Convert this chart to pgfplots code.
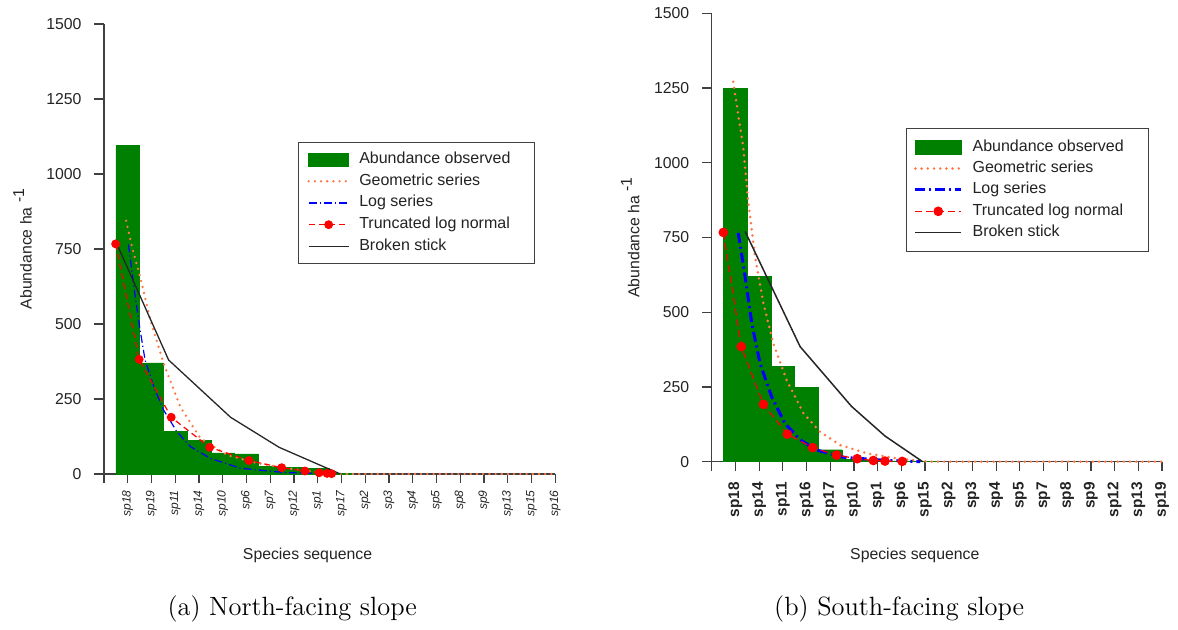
\documentclass[border=0pt]{standalone}
\usepackage{pgfplots}
\pgfplotsset{compat=1.18}
\usepackage{fontspec}
\newfontfamily\arialfont{Liberation Sans}
\usetikzlibrary{calc}
\definecolor{bargreen}{RGB}{0,128,0}
\definecolor{geoorange}{RGB}{255,120,70}
\definecolor{axgray}{RGB}{64,64,64}
\definecolor{txtgray}{RGB}{35,35,35}

\pgfplotsset{
 lineleg/.style={legend image code/.code={\draw[##1] (0pt,0pt) -- (#1,0pt);}},
 markleg/.style={legend image code/.code={\draw[##1, mark repeat=2, mark phase=2] plot coordinates {(0pt,0pt) (#1/2,0pt) (#1,0pt)};}},
 barleg/.style={legend image code/.code={\fill[bargreen] (0pt,-3.4pt) rectangle (#1,3.4pt);}},
 rsty/.style={
  scale only axis,
  axis lines=left,
  axis line style={-, draw=axgray, line width=0.6pt},
  every tick/.style={draw=axgray, line width=0.6pt},
  tick align=outside,
  major tick length=4.75pt,
  xmin=0, xmax=19, ymin=0, ymax=1500,
  xtick={0,...,19},
  ytick={0,250,500,750,1000,1250,1500},
  yticklabels={0,250,500,750,1000,1250,1500},
  yticklabel style={font=\fontsize{7.9}{9}\arialfont, text=txtgray, inner sep=0pt},
  yticklabel shift=6.3pt,
  ylabel={Abundance ha \raisebox{0.9ex}{-1}},
  xlabel={Species sequence},
  label style={font=\fontsize{7.9}{9}\arialfont, text=txtgray, inner sep=0pt},
  ylabel style={at={($(axis description cs:0,0.5)+(-36.2pt,0pt)$)}, anchor=base},
  clip=false,
  legend cell align=left,
 }
}

\begin{document}
\begin{tikzpicture}
\path[use as bounding box] (0pt,0pt) rectangle (589pt,315pt);

% ---------------- (a) North-facing slope ----------------
\begin{axis}[rsty,
  at={(52pt,78pt)}, anchor=south west,
  width=225.65pt, height=225pt,
  xticklabels={,sp18,sp19,sp11,sp14,sp10,sp6,sp7,sp12,sp1,sp17,sp2,sp3,sp4,sp5,sp8,sp9,sp13,sp15,sp16},
  xticklabel style={rotate=90, anchor=east, inner sep=0pt, font=\fontsize{6}{7}\arialfont\itshape, text=txtgray},
  xticklabel shift=3.3pt,
  xlabel style={at={($(axis description cs:0.451,0)+(0pt,-42.65pt)$)}, anchor=base},
  legend style={at={(axis description cs:0.43,0.738)}, anchor=north west,
    draw=axgray, line width=0.6pt, fill=white,
    inner xsep=4.35pt, inner ysep=5.05pt, row sep=3.85pt, column sep=4.65pt,
    font=\fontsize{8}{9.6}\arialfont, text=txtgray,
    nodes={inner sep=0pt, text height=5.5pt, text depth=1.5pt}},
]
\addplot[ybar, bar width=1, bar shift=0pt, fill=bargreen, draw=bargreen, line width=0.2pt, barleg=20pt]
  coordinates {(1,1095) (2,370) (3,141) (4,111) (5,70) (6,67) (7,25) (8,22) (9,19) (10,3)};
\addlegendentry{\makebox[83.15pt][l]{Abundance observed}}

\addplot[draw=geoorange, line width=1.3pt, line cap=round, dash pattern=on 0pt off 3.1pt, lineleg=20pt]
  coordinates {(0.93,844) (1.2,750) (1.52,658) (1.95,513) (2.51,369) (3.21,224) (4.06,119) (5.19,63) (6.46,36) (7.72,19) (8.8,8) (9.7,2) (10,0) (19,0)};
\addlegendentry{\makebox[83.15pt][l]{Geometric series}}

\addplot[draw=blue, line width=0.6pt, dash pattern=on 4pt off 1.5pt on 0.6pt off 1.5pt, lineleg=20pt]
  coordinates {(1.03,765) (1.3,600) (1.52,480) (1.73,380) (2.1,290) (2.51,213) (3.07,141) (3.64,91) (4.48,52) (5.75,19) (7.58,5) (9.6,0)};
\addlegendentry{\makebox[83.15pt][l]{Log series}}

\addplot[draw=red, line width=0.6pt, dash pattern=on 3pt off 2pt,
  mark=*, mark size=1.9pt, mark options={solid, fill=red, draw=red}, markleg=20pt]
  coordinates {(0.49,767) (1.48,382) (2.83,189) (4.45,89) (6.1,45) (7.48,21) (8.46,10) (9.06,4) (9.39,2) (9.58,1)};
\addlegendentry{\makebox[83.15pt][l]{Truncated log normal}}

\addplot[draw=black!85, line width=0.65pt, lineleg=20pt]
  coordinates {(0.54,767) (2.72,380) (5.33,189) (7.37,89) (9.95,0)};
\addlegendentry{\makebox[83.15pt][l]{Broken stick}}
\end{axis}

% ---------------- (b) South-facing slope ----------------
\begin{axis}[rsty,
  at={(355.85pt,84.15pt)}, anchor=south west,
  width=225.15pt, height=224.2pt,
  xticklabels={,sp18,sp14,sp11,sp16,sp17,sp10,sp1,sp6,sp15,sp2,sp3,sp4,sp5,sp7,sp8,sp9,sp12,sp13,sp19},
  xticklabel style={rotate=90, anchor=east, inner sep=0pt, font=\fontsize{7.7}{9}\arialfont\bfseries, text=txtgray},
  xticklabel shift=5.3pt,
  xlabel style={at={($(axis description cs:0.451,0)+(0pt,-48.8pt)$)}, anchor=base},
  legend style={at={(axis description cs:0.4308,0.7449)}, anchor=north west,
    draw=axgray, line width=0.6pt, fill=white,
    inner xsep=3.8pt, inner ysep=5.93pt, row sep=3.7pt, column sep=5pt,
    font=\fontsize{8}{9.6}\arialfont, text=txtgray,
    nodes={inner sep=0pt, text height=5.5pt, text depth=1.5pt}},
]
\addplot[ybar, bar width=1, bar shift=0pt, fill=bargreen, draw=bargreen, line width=0.2pt, barleg=22.85pt]
  coordinates {(1,1250) (2,620) (3,318) (4,248) (5,40) (6,9) (7,5) (8,3) (9,1)};
\addlegendentry{\makebox[84.2pt][l]{Abundance observed}}

\addplot[draw=geoorange, line width=1.4pt, line cap=round, dash pattern=on 0pt off 3.1pt, lineleg=22.85pt]
  coordinates {(0.91,1271) (1.1,1170) (1.33,1054) (1.55,865) (1.83,686) (2.18,530) (2.6,396) (3.16,273) (3.87,162) (4.57,100) (5.41,56) (6.54,28) (7.95,9) (8.93,2) (9.3,0) (19,0)};
\addlegendentry{\makebox[84.2pt][l]{Geometric series}}

\addplot[draw=blue, line width=1.5pt, dash pattern=on 5pt off 2pt on 1pt off 2pt, lineleg=22.85pt]
  coordinates {(1.12,765) (1.41,619) (1.69,463) (2.04,329) (2.53,217) (3.09,128) (3.73,73) (4.43,39) (5.55,15) (7.24,5) (8.8,0)};
\addlegendentry{\makebox[84.2pt][l]{Log series}}

\addplot[draw=red, line width=0.6pt, dash pattern=on 3.5pt off 2pt,
  mark=*, mark size=2.1pt, mark options={solid, fill=red, draw=red}, markleg=22.85pt]
  coordinates {(0.49,767) (1.25,385) (2.18,192) (3.19,92) (4.26,47) (5.27,22) (6.14,10) (6.82,4) (7.31,2) (8.04,1)};
\addlegendentry{\makebox[84.2pt][l]{Truncated log normal}}

\addplot[draw=black!85, line width=0.75pt, lineleg=22.85pt]
  coordinates {(1.41,770) (3.73,385) (5.9,185) (7.31,86) (8.9,0)};
\addlegendentry{\makebox[84.2pt][l]{Broken stick}}
\end{axis}

\node[anchor=base, font=\fontsize{13.2}{16}\selectfont] at (146.1pt,7pt) {(a) North-facing slope};
\node[anchor=base, font=\fontsize{13.2}{16}\selectfont] at (449.6pt,7pt) {(b) South-facing slope};
\end{tikzpicture}
\end{document}
